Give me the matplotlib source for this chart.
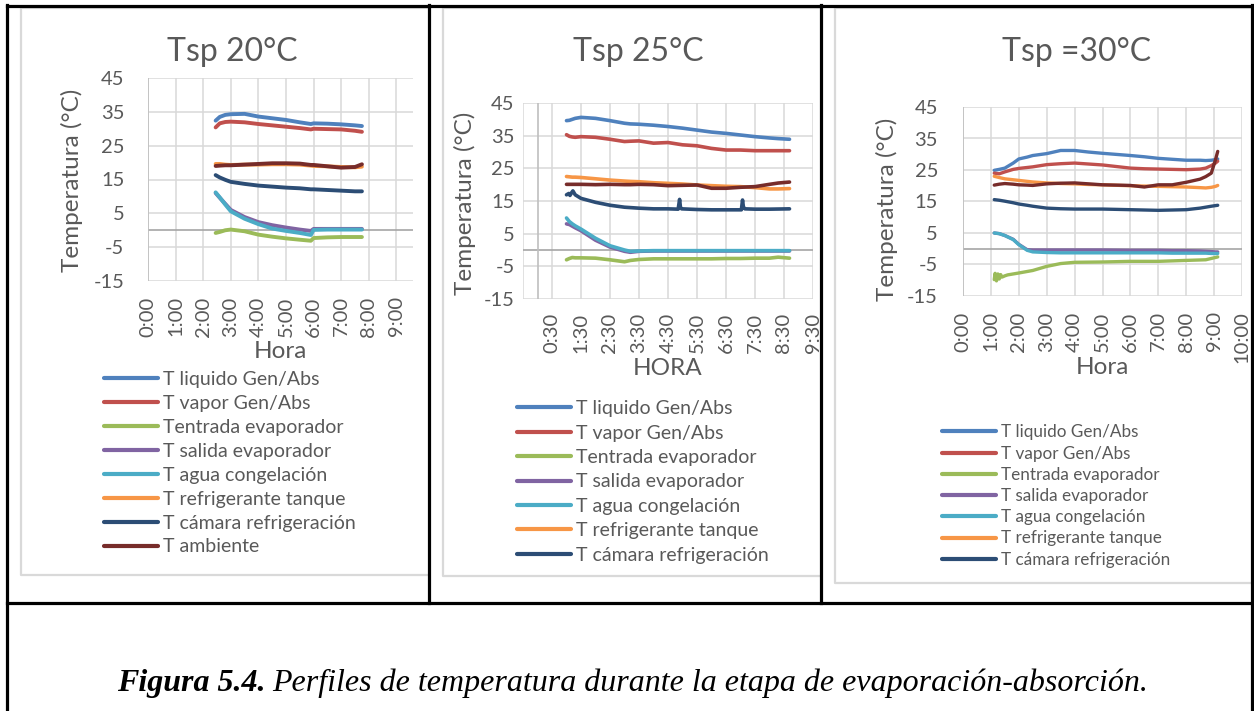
import matplotlib
matplotlib.use("Agg")
import matplotlib.pyplot as plt
from matplotlib.lines import Line2D
from matplotlib.transforms import Bbox, TransformedBbox

plt.rcParams['font.family'] = ['Lato', 'DejaVu Sans']
plt.rcParams['axes.unicode_minus'] = False

W, H = 1254, 711
fig = plt.figure(figsize=(W / 100, H / 100), dpi=100)

names = ["T liquido Gen/Abs", "T vapor Gen/Abs", "Tentrada evaporador",
         "T salida evaporador", "T agua congelación", "T refrigerante tanque",
         "T cámara refrigeración", "T ambiente"]
colors = ["#4F81BD", "#C0504D", "#9BBB59", "#8064A2", "#4BACC6", "#F79646",
          "#2C4D75", "#772C2A"]

# ---- Tsp 20 °C (hours) ----
t20 = [2.45, 2.6, 2.8, 3.0, 3.5, 4.0, 4.5, 5.0, 5.5, 5.9, 6.0, 6.5, 7.0, 7.5, 7.75]
liq20 = [32.4, 33.5, 34.1, 34.3, 34.4, 33.6, 33.1, 32.6, 31.9, 31.4, 31.6, 31.5, 31.3, 31.0, 30.8]
vap20 = [30.4, 31.6, 32.0, 32.1, 31.9, 31.4, 31.0, 30.6, 30.2, 29.8, 30.0, 29.9, 29.8, 29.4, 29.1]
ent20 = [-0.8, -0.5, 0.0, 0.2, -0.3, -1.3, -1.9, -2.4, -2.8, -3.1, -2.3, -2.1, -2.0, -2.0, -2.0]
sal20 = [11.0, 9.6, 7.8, 6.0, 3.9, 2.4, 1.5, 0.8, 0.2, -0.2, 0.4, 0.4, 0.4, 0.4, 0.4]
agua20 = [11.2, 9.7, 7.6, 5.6, 3.4, 1.8, 0.5, -0.2, -0.8, -1.4, 0.1, 0.2, 0.2, 0.2, 0.2]
tanq20 = [19.6, 19.6, 19.4, 19.3, 19.4, 19.4, 19.5, 19.5, 19.4, 19.1, 19.0, 18.9, 18.7, 18.6, 18.8]
cam20 = [16.3, 15.6, 14.9, 14.3, 13.7, 13.2, 12.9, 12.6, 12.4, 12.1, 12.1, 11.9, 11.7, 11.5, 11.5]
amb20 = [19.0, 19.1, 19.2, 19.2, 19.4, 19.6, 19.8, 19.8, 19.7, 19.3, 19.3, 18.9, 18.5, 18.7, 19.5]

# ---- Tsp 25 °C ----
t25 = [1.0, 1.1, 1.2, 1.3, 1.5, 2.0, 2.5, 3.0, 3.2, 3.5, 4.0, 4.5, 5.0, 5.5, 6.0, 6.5,
       7.0, 7.5, 8.0, 8.3, 8.69]
liq25 = [39.6, 39.7, 40.0, 40.3, 40.6, 40.3, 39.6, 38.8, 38.6, 38.5, 38.2, 37.8, 37.3, 36.7,
         36.1, 35.7, 35.2, 34.7, 34.3, 34.1, 33.9]
vap25 = [35.3, 34.8, 34.6, 34.5, 34.7, 34.5, 33.9, 33.2, 33.3, 33.4, 32.7, 32.9, 32.2, 31.9,
         31.1, 30.6, 30.6, 30.4, 30.4, 30.4, 30.4]
ent25 = [-3.0, -2.6, -2.3, -2.4, -2.4, -2.5, -3.0, -3.6, -3.2, -2.9, -2.7, -2.7, -2.7, -2.7,
         -2.7, -2.6, -2.6, -2.5, -2.5, -2.2, -2.5]
sal25 = [8.0, 7.8, 7.3, 6.8, 5.9, 3.0, 0.9, -0.4, -0.7, -0.4, -0.3, -0.3, -0.3, -0.3, -0.3,
         -0.3, -0.3, -0.3, -0.3, -0.3, -0.3]
agua25 = [9.8, 8.7, 8.0, 7.4, 6.4, 3.6, 1.3, 0.0, -0.4, -0.3, -0.2, -0.2, -0.2, -0.2, -0.2,
          -0.2, -0.2, -0.2, -0.2, -0.2, -0.2]
tanq25 = [22.5, 22.4, 22.3, 22.3, 22.2, 21.8, 21.4, 21.1, 21.0, 20.9, 20.6, 20.4, 20.2, 19.9,
          19.7, 19.5, 19.4, 19.1, 18.7, 18.7, 18.8]
amb25 = [20.1, 20.1, 20.1, 20.1, 20.1, 20.0, 20.1, 20.0, 20.0, 20.1, 20.0, 19.7, 19.8, 19.9,
         18.9, 18.9, 19.2, 19.4, 20.1, 20.5, 20.8]
t25_cam = [1.0, 1.08, 1.12, 1.18, 1.22, 1.3, 1.5, 2.0, 2.5, 3.0, 3.5, 4.0, 4.5, 4.85, 4.9,
           4.93, 4.97, 5.5, 6.0, 6.5, 7.03, 7.07, 7.1, 7.15, 7.5, 8.0, 8.69]
cam25 = [16.9, 17.3, 16.7, 17.6, 18.1, 16.9, 15.8, 14.6, 13.7, 13.1, 12.8, 12.6, 12.6, 12.5,
         15.5, 13.0, 12.6, 12.4, 12.3, 12.3, 12.3, 15.3, 13.2, 12.6, 12.5, 12.5, 12.6]

# ---- Tsp 30 °C ----
t30 = [1.12, 1.3, 1.5, 1.8, 2.0, 2.3, 2.5, 3.0, 3.5, 4.0, 4.5, 5.0, 6.0, 6.5, 7.0, 7.5,
       8.0, 8.5, 8.7, 8.9, 9.05, 9.13]
liq30 = [24.9, 25.2, 25.6, 27.2, 28.5, 29.1, 29.6, 30.2, 31.2, 31.2, 30.7, 30.3, 29.6, 29.2,
         28.7, 28.4, 28.1, 28.1, 28.0, 28.1, 28.3, 28.5]
vap30 = [24.0, 23.8, 24.4, 25.2, 25.5, 25.8, 26.0, 26.7, 27.0, 27.2, 26.9, 26.6, 25.6, 25.4,
         25.3, 25.2, 25.1, 25.3, 25.6, 26.4, 27.2, 27.8]
sal30 = [5.0, 4.8, 4.2, 3.0, 1.4, -0.3, -0.4, -0.4, -0.4, -0.4, -0.4, -0.4, -0.5, -0.5, -0.5,
         -0.6, -0.6, -0.7, -0.8, -0.9, -1.0, -1.0]
agua30 = [5.0, 4.8, 4.2, 2.9, 1.3, -0.5, -1.0, -1.2, -1.3, -1.3, -1.3, -1.3, -1.3, -1.3, -1.3,
          -1.4, -1.4, -1.4, -1.4, -1.5, -1.5, -1.5]
tanq30 = [23.0, 22.6, 22.2, 21.9, 21.7, 21.4, 21.2, 20.9, 20.7, 20.6, 20.4, 20.3, 20.0, 19.9,
          19.8, 19.7, 19.6, 19.4, 19.3, 19.5, 19.8, 20.1]
cam30 = [15.6, 15.4, 15.1, 14.6, 14.2, 13.8, 13.5, 12.9, 12.7, 12.6, 12.6, 12.6, 12.4, 12.3,
         12.2, 12.3, 12.4, 12.9, 13.2, 13.5, 13.7, 13.8]
amb30 = [20.2, 20.5, 20.7, 20.5, 20.3, 20.2, 20.1, 20.6, 20.8, 20.9, 20.6, 20.3, 20.1, 19.6,
         20.3, 20.3, 21.1, 22.1, 22.9, 24.0, 28.3, 30.9]
t30_ent = [1.12, 1.15, 1.2, 1.25, 1.3, 1.35, 1.4, 1.5, 1.6, 1.8, 2.0, 2.5, 3.0, 3.5, 4.0,
           5.0, 6.0, 7.0, 8.0, 8.7, 9.13]
ent30 = [-9.8, -7.8, -10.2, -8.0, -9.6, -8.2, -9.0, -8.6, -8.3, -8.0, -7.7, -6.9, -5.6, -4.7,
         -4.3, -4.2, -4.0, -4.0, -3.7, -3.5, -2.6]

panels = [
    dict(title="Tsp 20°C", xlabel="Hora", box=(148, 413, 78, 281), xlim=(0, 9.6),
         ticks=[0, 1, 2, 3, 4, 5, 6, 7, 8, 9], grid=[0, 1, 2, 3, 4, 5, 6, 7, 8, 9],
         series=[(t20, liq20), (t20, vap20), (t20, ent20), (t20, sal20), (t20, agua20),
                 (t20, tanq20), (t20, cam20), (t20, amb20)],
         nleg=8, title_xy=(232, 52), ylab_xy=(72, 180), xlab_y=352, ypad=17, xpad=11,
         leg_xy=(104, 380), leg_fs=14, leg_sp=23.8, lw=2.8,
         frame=(21, 8, 575, 429)),
    dict(title="Tsp 25°C", xlabel="HORA", box=(523, 813, 103, 299), xlim=(-0.5, 9.5),
         ticks=[0.5, 1.5, 2.5, 3.5, 4.5, 5.5, 6.5, 7.5, 8.5, 9.5],
         grid=[-0.5, 0.5, 1.5, 2.5, 3.5, 4.5, 5.5, 6.5, 7.5, 8.5, 9.5],
         series=[(t25, liq25), (t25, vap25), (t25, ent25), (t25, sal25), (t25, agua25),
                 (t25, tanq25), (t25_cam, cam25), (t25, amb25)],
         nleg=7, title_xy=(638, 52), ylab_xy=(465, 203), xlab_y=368, ypad=6, xpad=10,
         leg_xy=(517, 409), leg_fs=14, leg_sp=24.3, lw=2.6,
         frame=(443, 8, 576, 821)),
    dict(title="Tsp =30°C", xlabel="Hora", box=(963, 1242, 107, 296), xlim=(0, 10),
         ticks=[0, 1, 2, 3, 4, 5, 6, 7, 8, 9, 10], grid=[0, 1, 2, 3, 4, 5, 6, 7, 8, 9, 10],
         series=[(t30, liq30), (t30, vap30), (t30_ent, ent30), (t30, sal30), (t30, agua30),
                 (t30, tanq30), (t30, cam30), (t30, amb30)],
         nleg=7, title_xy=(1077, 52), ylab_xy=(887, 209), xlab_y=367, ypad=18, xpad=11,
         leg_xy=(942, 432), leg_fs=12.3, leg_sp=20.1, lw=2.4,
         frame=(835, 8, 583, 1252)),
]

txt = "#595959"


def fx(px):
    return px / W


def fy(py):
    return 1 - py / H


def hfmt(h):
    return "%d:%02d" % (int(h), int(round((h % 1) * 60)))


for p in panels:
    x0, x1, y0, y1 = p["box"]
    ax = fig.add_axes([fx(x0), fy(y1), (x1 - x0) / W, (y1 - y0) / H])
    for s in ax.spines.values():
        s.set_visible(False)
    ax.set_xlim(*p["xlim"])
    ax.set_ylim(-15, 45)
    ax.set_yticks(range(-15, 46, 10))
    for g in p["grid"]:
        ax.axvline(g, color="#D9D9D9", lw=1.1, zorder=1)
    for g in range(-15, 46, 10):
        ax.axhline(g, color="#D9D9D9", lw=1.1, zorder=1)
    ax.axhline(0, color="#A6A6A6", lw=1.2, zorder=1.5)
    ax.axvline(0, color="#BFBFBF", lw=1.2, zorder=1.5)
    ax.set_xticks(p["ticks"])
    ax.set_xticklabels([hfmt(t) for t in p["ticks"]], rotation=90)
    ax.tick_params(axis="y", length=0, pad=p["ypad"], labelsize=14.5, labelcolor=txt)
    ax.tick_params(axis="x", length=0, pad=p["xpad"], labelsize=14.5, labelcolor=txt)

    handles = []
    for (t, v), c, n in zip(p["series"], colors, names):
        ln, = ax.plot(t, v, color=c, lw=p["lw"], solid_capstyle="round",
                      solid_joinstyle="round", zorder=3, label=n)
        handles.append(ln)

    fig.text(fx(p["title_xy"][0]), fy(p["title_xy"][1]), p["title"], fontsize=23,
             color=txt, ha="center", va="center")
    fig.text(fx(p["ylab_xy"][0]), fy(p["ylab_xy"][1]), "Temperatura (°C)", fontsize=17.5,
             color=txt, ha="center", va="center", rotation=90)
    fig.text(fx((x0 + x1) / 2), fy(p["xlab_y"]), p["xlabel"], fontsize=17.5,
             color=txt, ha="center", va="center")

    fs_px = p["leg_fs"] * 100 / 72
    top = p["leg_xy"][1] - 0.45 * fs_px
    leg = fig.legend(handles[:p["nleg"]], names[:p["nleg"]], loc="upper left",
                     bbox_to_anchor=(fx(p["leg_xy"][0]), fy(top)),
                     frameon=False, fontsize=p["leg_fs"], borderpad=0,
                     borderaxespad=0, handlelength=54 / fs_px, handletextpad=5 / fs_px,
                     labelspacing=(p["leg_sp"] - 0.87 * fs_px) / fs_px)
    for tx in leg.get_texts():
        tx.set_color(txt)
    for hl in leg.legend_handles:
        hl.set_linewidth(3)

    # chart-area border (light grey, cut by the table cell on the right)
    fl, ft, fb, fr = p["frame"]
    fig.add_artist(Line2D([fx(fr), fx(fl), fx(fl), fx(fr)],
                          [fy(ft), fy(ft), fy(fb), fy(fb)],
                          color="#D9D9D9", lw=1.6, zorder=0))

# table frame
blk = dict(color="black", lw=2.3, zorder=10)
fig.add_artist(Line2D([fx(7), fx(1253)], [fy(6), fy(6)], **blk))
fig.add_artist(Line2D([fx(7), fx(1253)], [fy(603), fy(603)], **blk))
fig.add_artist(Line2D([fx(7), fx(7)], [fy(5), fy(711)], **blk))
fig.add_artist(Line2D([fx(1252), fx(1252)], [fy(5), fy(711)], **blk))
fig.add_artist(Line2D([fx(429), fx(429)], [fy(5), fy(603)], **blk))
fig.add_artist(Line2D([fx(821), fx(821)], [fy(5), fy(603)], **blk))

# caption
cap_font = ["Liberation Serif", "DejaVu Serif"]
t1 = fig.text(fx(117), fy(683), "Figura 5.4.", fontsize=23, fontweight="bold",
              fontstyle="italic", family=cap_font, ha="left", va="center")
r = fig.canvas.get_renderer()
bb = t1.get_window_extent(renderer=r)
fig.text(bb.x1 / W + 7 / W, fy(683),
         "Perfiles de temperatura durante la etapa de evaporación-absorción.",
         fontsize=23, fontstyle="italic", family=cap_font, ha="left", va="center")

fig.savefig("out.png", dpi=100)
